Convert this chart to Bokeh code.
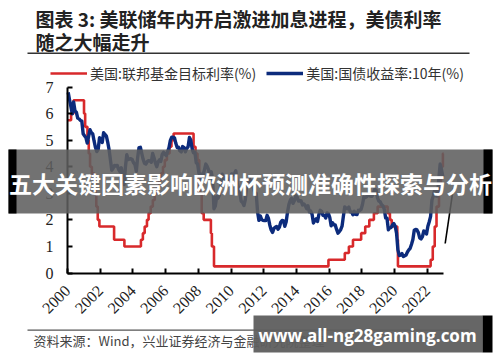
import math
from bokeh.plotting import figure
from bokeh.models import (Range1d, FixedTicker, Legend, LegendItem, Label, BoxAnnotation)
from bokeh.embed import file_html
from bokeh.resources import INLINE

# ---------------- data ----------------
title_line1 = "图表 3: 美联储年内开启激进加息进程，美债利率"
title_line2 = "随之大幅走升"
source_text = "资料来源：Wind，兴业证券经济与金融研究院整理"
banner_text = "五大关键因素影响欧洲杯预测准确性探索与分析"
watermark_text = "www.all-ng28gaming.com"
fed_label = "美国:联邦基金目标利率(%)"
ust_label = "美国:国债收益率:10年(%)"

x_ticks = [2000, 2002, 2004, 2006, 2008, 2010, 2012, 2014, 2016, 2018, 2020, 2022]
x_tick_labels = ["2000", "2002", "2004", "2006", "2008", "2010", "2012", "2014", "2016", "2018", "2020", "2022"]
y_ticks = [0, 1, 2, 3, 4, 5, 6, 7]

# Fed funds target rate (step changes, decimal year)
fed_dates = [2000.0, 2000.22, 2000.37, 2001.01, 2001.08, 2001.22, 2001.30, 2001.38, 2001.49,
             2001.64, 2001.71, 2001.76, 2001.85, 2001.95, 2002.85, 2003.48, 2004.49, 2004.61,
             2004.72, 2004.86, 2004.96, 2005.09, 2005.22, 2005.34, 2005.50, 2005.61, 2005.72,
             2005.84, 2005.95, 2006.08, 2006.24, 2006.36, 2006.49, 2007.71, 2007.83, 2007.95,
             2008.06, 2008.08, 2008.21, 2008.33, 2008.77, 2008.83, 2008.96, 2015.96, 2016.96,
             2017.21, 2017.46, 2017.96, 2018.21, 2018.46, 2018.74, 2018.97, 2019.58, 2019.72,
             2019.83, 2020.17, 2020.21, 2022.21, 2022.34, 2022.46, 2022.57, 2022.72, 2022.84,
             2022.96, 2023.0]
fed_rates = [5.75, 6.0, 6.5, 6.0, 5.5, 5.0, 4.5, 4.0, 3.75,
             3.5, 3.0, 2.5, 2.0, 1.75, 1.25, 1.0, 1.25, 1.5,
             1.75, 2.0, 2.25, 2.5, 2.75, 3.0, 3.25, 3.5, 3.75,
             4.0, 4.25, 4.5, 4.75, 5.0, 5.25, 4.75, 4.5, 4.25,
             3.5, 3.0, 2.25, 2.0, 1.5, 1.0, 0.25, 0.5, 0.75,
             1.0, 1.25, 1.5, 1.75, 2.0, 2.25, 2.5, 2.25, 2.0,
             1.75, 1.25, 0.25, 0.5, 1.0, 1.75, 2.5, 3.25, 4.0,
             4.5, 4.5]

# 10-year Treasury yield, monthly, 2000-01 .. 2022-12
ust_2000 = [6.80, 6.52, 6.26, 5.99, 6.44, 6.10, 6.05, 5.83, 5.80, 5.74, 5.72, 5.24]
ust_2001 = [5.16, 5.10, 4.89, 5.14, 5.39, 5.28, 5.24, 4.97, 4.73, 4.57, 4.65, 5.09]
ust_2002 = [5.04, 4.91, 5.28, 5.21, 5.16, 4.93, 4.65, 4.26, 3.87, 3.94, 4.05, 4.03]
ust_2003 = [4.05, 3.90, 3.81, 3.96, 3.57, 3.33, 3.98, 4.45, 4.27, 4.29, 4.30, 4.27]
ust_2004 = [4.15, 4.08, 3.83, 4.35, 4.72, 4.73, 4.50, 4.28, 4.13, 4.10, 4.19, 4.23]
ust_2005 = [4.22, 4.17, 4.50, 4.34, 4.14, 4.00, 4.18, 4.26, 4.20, 4.46, 4.54, 4.47]
ust_2006 = [4.42, 4.57, 4.72, 4.99, 5.11, 5.11, 5.09, 4.88, 4.72, 4.73, 4.60, 4.56]
ust_2007 = [4.76, 4.72, 4.56, 4.69, 4.75, 5.10, 5.00, 4.67, 4.52, 4.53, 4.15, 4.10]
ust_2008 = [3.74, 3.74, 3.51, 3.68, 3.88, 4.10, 4.01, 3.89, 3.69, 3.81, 3.53, 2.42]
ust_2009 = [2.52, 2.87, 2.82, 2.93, 3.29, 3.72, 3.56, 3.59, 3.40, 3.39, 3.40, 3.59]
ust_2010 = [3.73, 3.69, 3.73, 3.85, 3.42, 3.20, 3.01, 2.70, 2.65, 2.54, 2.76, 3.29]
ust_2011 = [3.39, 3.58, 3.41, 3.46, 3.17, 3.00, 3.00, 2.30, 1.98, 2.15, 2.01, 1.98]
ust_2012 = [1.97, 1.97, 2.17, 2.05, 1.80, 1.62, 1.53, 1.68, 1.72, 1.75, 1.65, 1.72]
ust_2013 = [1.91, 1.98, 1.96, 1.76, 1.93, 2.30, 2.58, 2.74, 2.81, 2.62, 2.72, 2.90]
ust_2014 = [2.86, 2.71, 2.72, 2.71, 2.56, 2.60, 2.54, 2.42, 2.53, 2.30, 2.33, 2.21]
ust_2015 = [1.88, 1.98, 2.04, 1.94, 2.20, 2.36, 2.32, 2.17, 2.17, 2.07, 2.26, 2.24]
ust_2016 = [2.09, 1.78, 1.89, 1.81, 1.81, 1.64, 1.50, 1.56, 1.63, 1.76, 2.14, 2.49]
ust_2017 = [2.43, 2.42, 2.48, 2.30, 2.30, 2.19, 2.32, 2.21, 2.20, 2.36, 2.35, 2.40]
ust_2018 = [2.58, 2.86, 2.84, 2.87, 2.98, 2.91, 2.89, 2.89, 3.00, 3.15, 3.12, 2.83]
ust_2019 = [2.71, 2.68, 2.57, 2.53, 2.40, 2.07, 2.06, 1.63, 1.70, 1.71, 1.81, 1.86]
ust_2020 = [1.76, 1.50, 0.87, 0.66, 0.67, 0.73, 0.62, 0.65, 0.68, 0.79, 0.87, 0.93]
ust_2021 = [1.08, 1.26, 1.61, 1.64, 1.62, 1.52, 1.32, 1.28, 1.37, 1.58, 1.56, 1.47]
ust_2022 = [1.76, 1.93, 2.13, 2.75, 2.90, 3.14, 2.90, 2.90, 3.52, 4.10, 3.89, 3.62]
ust_years = list(range(2000, 2023))

# thin black stroke at the right edge of the original picture
extra_x = [2023.1, 2023.6]
extra_y = [1.11, 3.2]

ust_by_year = [ust_2000, ust_2001, ust_2002, ust_2003, ust_2004, ust_2005, ust_2006, ust_2007,
               ust_2008, ust_2009, ust_2010, ust_2011, ust_2012, ust_2013, ust_2014, ust_2015,
               ust_2016, ust_2017, ust_2018, ust_2019, ust_2020, ust_2021, ust_2022]
ust_x, ust_y = [], []
for yr, vals in zip(ust_years, ust_by_year):
    for m, v in enumerate(vals):
        ust_x.append(yr + (m + 0.5) / 12.0)
        ust_y.append(v)

# ---------------- figure ----------------
W, H = 500, 362
PX_X0, PX_PER_YEAR = 67.0, 16.35     # pixel of year 2000, pixels per year
PX_Y0, PX_PER_UNIT = 272.5, 26.57    # pixel of 0 %, pixels per 1 %

x_start = 2000 - PX_X0 / PX_PER_YEAR
x_end = 2000 + (W - PX_X0) / PX_PER_YEAR
y_start = -(H - PX_Y0) / PX_PER_UNIT
y_end = PX_Y0 / PX_PER_UNIT

p = figure(width=W, height=H, output_backend="svg", toolbar_location=None,
           x_range=Range1d(x_start, x_end), y_range=Range1d(y_start, y_end),
           min_border=0, min_border_left=0, min_border_right=0,
           min_border_top=0, min_border_bottom=0,
           background_fill_color="white", border_fill_color="white")
p.outline_line_color = None
p.grid.visible = False

RED = "#d8292b"
BLUE = "#0c2b7c"

r_fed = p.step(fed_dates, fed_rates, mode="after", line_color=RED, line_width=2.6)
r_ust = p.line(ust_x, ust_y, line_color=BLUE, line_width=3.4, line_join="round")
p.line(extra_x, extra_y, line_color="black", line_width=1.6)

for ax in (p.xaxis[0], p.yaxis[0]):
    ax.axis_line_width = 2
    ax.axis_line_color = "black"
    ax.major_tick_line_width = 2
    ax.major_tick_line_color = "black"
    ax.major_tick_in = 5
    ax.major_tick_out = 0
    ax.minor_tick_line_color = None
    ax.major_label_text_font = "Liberation Serif"
    ax.major_label_text_font_size = "16px"
    ax.major_label_text_color = "#222222"

p.xaxis.fixed_location = 0
p.yaxis.fixed_location = 2000
p.xaxis.ticker = FixedTicker(ticks=x_ticks)
p.xaxis.major_label_overrides = {t: s for t, s in zip(x_ticks, x_tick_labels)}
p.xaxis.major_label_orientation = math.pi / 4
p.xaxis.bounds = (2000, 2023)
p.xaxis.major_label_standoff = 15
p.yaxis.ticker = FixedTicker(ticks=y_ticks)
p.yaxis.bounds = (0, 7)
p.yaxis.major_label_standoff = 14

legend = Legend(items=[LegendItem(label=fed_label, renderers=[r_fed]),
                       LegendItem(label=ust_label, renderers=[r_ust])],
                orientation="horizontal", location=(50, H - 83),
                glyph_width=37, glyph_height=14, label_standoff=3, spacing=10,
                padding=0, margin=0, border_line_alpha=0, background_fill_alpha=0,
                label_text_font="Noto Sans CJK SC", label_text_font_size="14px",
                label_text_color="#333333", label_height=14)
p.add_layout(legend, "center")

# helpers: picture-pixel position -> data position for annotations
def ax_(X):
    return 2000 + (X - PX_X0) / PX_PER_YEAR

def ay_(Y):
    return (PX_Y0 - Y) / PX_PER_UNIT

def box(x0, x1, y0, y1, color, alpha=1.0):
    p.add_layout(BoxAnnotation(left=ax_(x0), right=ax_(x1), top=ay_(y0), bottom=ay_(y1),
                               fill_color=color, fill_alpha=alpha, line_color=None,
                               level="overlay"))

def label(X, Y, text, size, color, bold=False, align="left", font="Noto Sans CJK SC"):
    p.add_layout(Label(x=ax_(X), y=ay_(Y), text=text, text_font=font,
                       text_font_size=size, text_color=color,
                       text_font_style="bold" if bold else "normal",
                       text_align=align, text_baseline="middle", level="overlay"))

# title & rules
label(35, 18, title_line1, "19px", "#222222", bold=True)
label(35, 41, title_line2, "19px", "#222222", bold=True)
box(27, 469, 52, 53.5, "#333333")
box(27, 469, 329, 330.3, "#555555")
label(33, 340, source_text, "13px", "#444444")

# banner overlay
box(8, 492, 149, 213, "#5e5e5e", 0.88)
box(8, 16, 149, 213, "black")
box(483, 492, 149, 213, "black")
label(250, 182, banner_text, "23px", "white", bold=True, align="center")

# watermark overlay
box(253, 482, 315, 352, "#5e5e5e", 0.95)
box(482, 492, 315, 352, "black")
label(367, 335, watermark_text, "17px", "white", bold=True, align="center", font="Open Sans")

open("out.html", "w").write(file_html(p, INLINE))
